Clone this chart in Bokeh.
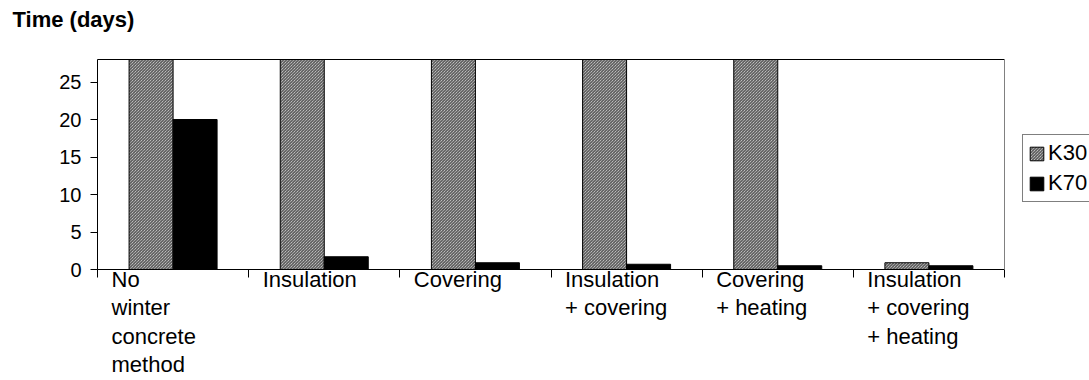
import numpy as np
from bokeh.plotting import figure
from bokeh.models import (Range1d, FixedTicker, Legend, LegendItem,
                          ColumnDataSource, LinearAxis)
from bokeh.transform import dodge
from bokeh.core.properties import value
from bokeh.embed import file_html
from bokeh.resources import INLINE

# ---- data ----
categories = ["No\nwinter\nconcrete\nmethod", "Insulation", "Covering",
              "Insulation\n+ covering", "Covering\n+ heating",
              "Insulation\n+ covering\n+ heating"]
k30 = [28, 28, 28, 28, 28, 0.9]
k70 = [20, 1.7, 0.9, 0.7, 0.5, 0.5]
y_ticks = [0, 5, 10, 15, 20, 25]
series_names = ["K30", "K70"]
y_max = 28
title_text = "Time (days)"

# ---- layout (page pixels) ----
FONT = "Liberation Sans"
W, H = 1089, 380
OFF = 0
PX_LEFT, PX_RIGHT, PX_TOP, PX_ZERO = 97, 1004, 59, 269
n = len(categories)
ux = (PX_RIGHT - PX_LEFT) / n
uy = (PX_ZERO - PX_TOP) / y_max
x_start = -(PX_LEFT - OFF) / ux
x_end = x_start + W / ux
y_end = y_max + (PX_TOP - OFF) / uy
y_start = y_end - H / uy
bar_w = 44 / ux

p = figure(width=W, height=H, x_range=Range1d(x_start, x_end),
           y_range=Range1d(y_start, y_end), x_axis_type=None,
           y_axis_type=None, output_backend="svg", toolbar_location=None,
           min_border=0, outline_line_color=None)
p.xgrid.visible = False
p.ygrid.visible = False

src = ColumnDataSource(dict(x=np.arange(n) + 0.5, k30=k30, k70=k70))
r1 = p.vbar(x=dodge("x", -bar_w / 2), top="k30", width=bar_w, source=src,
            fill_color="#e8e8e8", line_color="black", line_width=1,
            hatch_pattern="left_diagonal_line", hatch_color="#3a3a3a",
            hatch_scale=3, hatch_weight=1)
r2 = p.vbar(x=dodge("x", bar_w / 2), top="k70", width=bar_w, source=src,
            fill_color="black", line_color="black", line_width=1)

# y axis
ya = LinearAxis(fixed_location=0, bounds=(0, y_max),
                ticker=FixedTicker(ticks=y_ticks))
ya.major_tick_out = 7
ya.major_tick_in = 0
ya.minor_tick_line_color = None
ya.axis_line_color = "black"
ya.major_tick_line_color = "black"
ya.major_label_text_font = FONT
ya.major_label_text_font_size = "20px"
ya.major_label_text_color = "black"
ya.major_label_standoff = 9
p.add_layout(ya, "left")

# x axis: ticks on category boundaries
xa = LinearAxis(fixed_location=0, bounds=(0, n),
                ticker=FixedTicker(ticks=list(range(n + 1))))
xa.major_label_overrides = {i: "" for i in range(n + 1)}
xa.major_tick_out = 8
xa.major_tick_in = 0
xa.minor_tick_line_color = None
xa.axis_line_color = "black"
xa.major_tick_line_color = "black"
p.add_layout(xa, "below")

# top and right border of the plot area
ta = LinearAxis(fixed_location=y_max, bounds=(0, n),
                ticker=FixedTicker(ticks=[]))
ta.major_tick_line_color = None
ta.minor_tick_line_color = None
ta.axis_line_color = "black"
p.add_layout(ta, "above")
ra = LinearAxis(fixed_location=n, bounds=(0, y_max),
                ticker=FixedTicker(ticks=[]))
ra.major_tick_line_color = None
ra.minor_tick_line_color = None
ra.axis_line_color = "#808080"
p.add_layout(ra, "right")

# category labels
lab = ColumnDataSource(dict(x=np.arange(n), y=np.zeros(n), text=categories))
p.text(x="x", y="y", text="text", source=lab, x_offset=14, y_offset=-3,
       text_align="left", text_baseline="top", text_font=value(FONT),
       text_font_size="22px", text_line_height=1.14, text_color="black")

# title
tsrc = ColumnDataSource(dict(x=[x_start + (12 - OFF) / ux],
                             y=[y_end - (19 - OFF) / uy],
                             text=[title_text]))
p.text(x="x", y="y", text="text", source=tsrc, text_align="left",
       text_baseline="alphabetic", text_font=value(FONT),
       text_font_size="22px", text_font_style="bold", text_color="black")

legend = Legend(items=[LegendItem(label=series_names[0], renderers=[r1]),
                       LegendItem(label=series_names[1], renderers=[r2])],
                location=(1022 - OFF, (OFF + H) - 202), padding=5, spacing=4,
                glyph_width=17, glyph_height=17, label_standoff=3,
                label_text_font=FONT, label_text_font_size="22px",
                label_text_color="black", border_line_color="black",
                border_line_width=1, background_fill_alpha=1, margin=0)
p.add_layout(legend, "center")

open("out.html", "w").write(file_html(p, INLINE))
